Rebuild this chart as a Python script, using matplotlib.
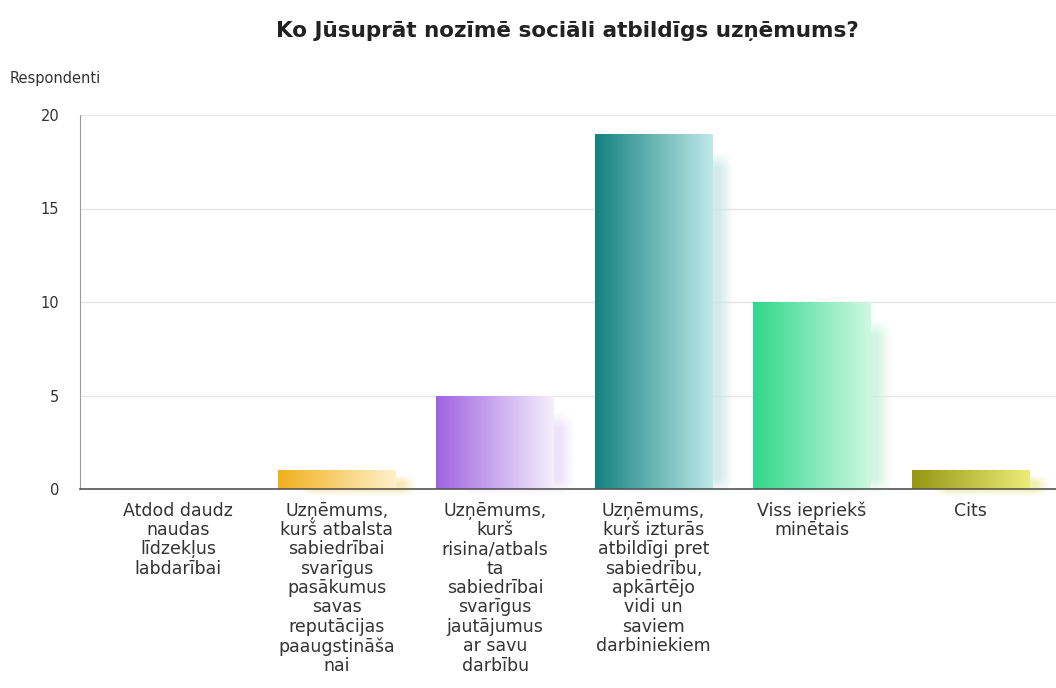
import numpy as np
import matplotlib
matplotlib.use("Agg")
import matplotlib.pyplot as plt
from matplotlib.colors import to_rgb

plt.rcParams['font.family'] = ['DejaVu Sans']

title = "Ko Jūsuprāt nozīmē sociāli atbildīgs uzņēmums?"
ylabel = "Respondenti"
categories = [
    "Atdod daudz\nnaudas\nlīdzekļus\nlabdarībai",
    "Uzņēmums,\nkurš atbalsta\nsabiedrībai\nsvarīgus\npasākumus\nsavas\nreputācijas\npaaugstināša\nnai",
    "Uzņēmums,\nkurš\nrisina/atbals\nta\nsabiedrībai\nsvarīgus\njautājumus\nar savu\ndarbību",
    "Uzņēmums,\nkurš izturās\natbildīgi pret\nsabiedrību,\napkārtējo\nvidi un\nsaviem\ndarbiniekiem",
    "Viss iepriekš\nminētais",
    "Cits",
]
values = [0, 1, 5, 19, 10, 1]
dark_colors = ["#3a7bd5", "#f0b01e", "#a064e1", "#148280", "#32d78c", "#969614"]
light_colors = ["#d8e8fa", "#fff0c8", "#f5eefc", "#bee9e9", "#cdf8e1", "#ebeb78"]
shadow_colors = ["#c8d8f0", "#f8e4a8", "#e8dcf6", "#c8e6e6", "#c8f2dc", "#ecec9a"]

fig = plt.figure(figsize=(10.56, 6.88), dpi=100)
ax = fig.add_axes([80 / 1056, 1 - 489 / 688, 1 - 80 / 1056, (489 - 115) / 688])

x = np.arange(len(categories))
width = 0.74
dx, dy = 0.13, 0.9


def gradient(c0, c1, n=64):
    a = np.array(to_rgb(c0))
    b = np.array(to_rgb(c1))
    t = np.linspace(0, 1, n)[None, :, None]
    return (a + (b - a) * t).repeat(2, axis=0)


def shadow_img(color, w, h, n=128, fade_x=0.09, fade_y=0.9):
    # rgba block whose alpha fades out near its edges (fades given in data units)
    img = np.zeros((n, n, 4))
    img[..., :3] = to_rgb(color)
    ux = np.linspace(0, w, n)
    uy = np.linspace(0, h, n)
    fx = np.clip(np.minimum(ux, w - ux) / fade_x, 0, 1)
    fy = np.clip(np.minimum(uy, h - uy) / fade_y, 0, 1)
    img[..., 3] = 0.8 * fy[:, None] * fx[None, :]
    return img


bars = ax.bar(x, values, width=width, color="none", edgecolor="none", zorder=3)
for xi, v, rect, c0, c1, cs in zip(x, values, bars, dark_colors, light_colors, shadow_colors):
    if v <= 0:
        continue
    # soft shadow behind the bar, shifted right and down
    top = max(v - dy, 0.7)
    bot = -0.4
    ax.imshow(shadow_img(cs, width, top - bot, fade_y=min(0.9, (top - bot) / 3)),
              extent=(xi - width / 2 + dx, xi + width / 2 + dx, bot, top),
              aspect="auto", interpolation="bilinear", zorder=2, clip_on=False)
    im = ax.imshow(gradient(c0, c1), extent=(xi - width / 2, xi + width / 2, 0, v),
                   aspect="auto", interpolation="bilinear", zorder=3)
    im.set_clip_path(rect)

ax.set_xlim(-0.62, 5.54)
ax.set_ylim(0, 20)

ax.set_yticks([0, 5, 10, 15, 20])
ax.yaxis.grid(True, color="#e6e6e6", linewidth=1)
ax.set_axisbelow(True)
ax.tick_params(axis="y", length=0, pad=15, labelsize=10.5, labelcolor="#333333")
ax.set_xticks(x)
ax.set_xticklabels(categories, fontsize=12.5, color="#333333", linespacing=1.1)
ax.tick_params(axis="x", length=0, pad=9)

for s in ["top", "right"]:
    ax.spines[s].set_visible(False)
ax.spines["left"].set_color("#999999")
ax.spines["bottom"].set_color("#555555")
ax.spines["bottom"].set_linewidth(1.2)
ax.spines["bottom"].set_zorder(4)

fig.text(567 / 1056, 1 - 31 / 688, title, ha="center", va="center",
         fontsize=15.5, fontweight="bold", color="#222222")
fig.text(10 / 1056, 1 - 78 / 688, ylabel, ha="left", va="center",
         fontsize=10.5, color="#333333")

fig.savefig("out.png", dpi=100)
